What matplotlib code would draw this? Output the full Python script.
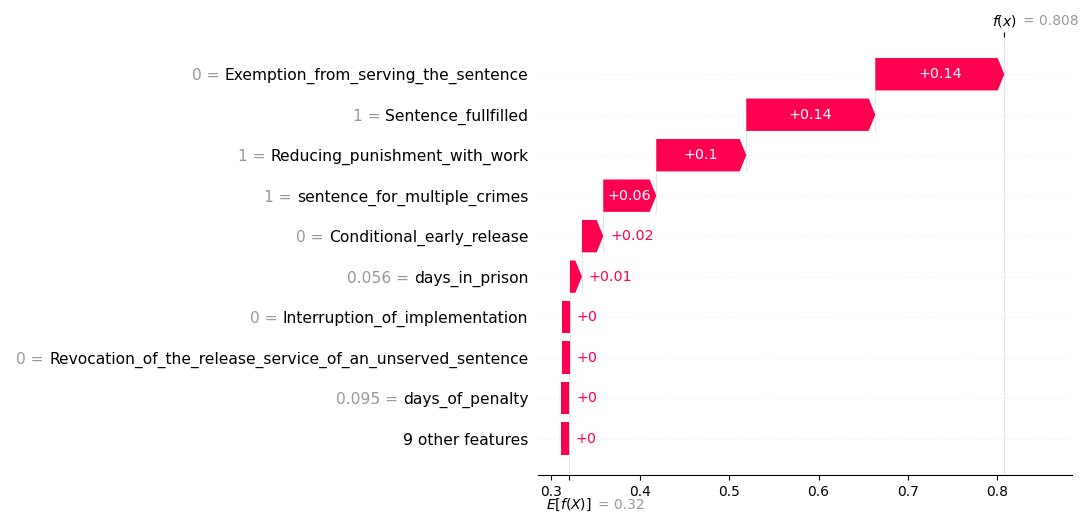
import matplotlib
matplotlib.use("Agg")
import matplotlib.pyplot as plt
import numpy as np

# features listed top to bottom, as in the waterfall
features = [
    "Exemption_from_serving_the_sentence",
    "Sentence_fullfilled",
    "Reducing_punishment_with_work",
    "sentence_for_multiple_crimes",
    "Conditional_early_release",
    "days_in_prison",
    "Interruption_of_implementation",
    "Revocation_of_the_release_service_of_an_unserved_sentence",
    "days_of_penalty",
    "9 other features",
]
feature_values = ["0", "1", "1", "1", "0", "0.056", "0", "0", "0.095", ""]
shap_values = [0.1445, 0.1445, 0.1008, 0.0594, 0.0239, 0.0134,
               0.0004, 0.0004, 0.0004, 0.0004]
base_value = 0.32
x_ticks = [0.3, 0.4, 0.5, 0.6, 0.7, 0.8]

RED = "#ff0051"
GRAY = "#999999"
BAR_H = 0.8
HEAD = 0.0074   # arrow head length, data units
STUB = 0.009    # drawn width of bars that round to +0


def fmt(v, f="%+0.02f"):
    s = f % v
    return s.rstrip("0").rstrip(".")


n = len(features)
ys = np.arange(n)[::-1]
vals = np.array(shap_values)
# bars stack from the bottom row upward, starting at E[f(X)]
ends = base_value + np.cumsum(vals[::-1])[::-1]
starts = ends - vals
fx_value = base_value + vals.sum()

fig = plt.figure(figsize=(10.9, 5.26), dpi=100)
ax = fig.add_axes([538 / 1090, 1 - 475 / 526, (1072 - 538) / 1090, (475 - 37) / 526])
ax.set_xlim(0.2858, 0.8839)
ax.set_ylim(-0.9, n - 0.08)

# row guide lines
for y in ys:
    ax.axhline(y, color="#cccccc", lw=0.5, dashes=(1, 5), zorder=-1)

# connectors between consecutive bars
for i in range(n - 1):
    ax.plot([starts[i], starts[i]], [ys[i] - 1 - 0.4, ys[i] + 0.4],
            color="#bbbbbb", lw=0.5, dashes=(1, 1), zorder=0)

ax.axvline(fx_value, color="#bbbbbb", lw=0.5, dashes=(1, 1), zorder=0)
ax.axvline(base_value, 0, 1 / n, color="#bbbbbb", lw=0.5, dashes=(1, 1), zorder=0)

renderer = fig.canvas.get_renderer()
for y, s, v in zip(ys, starts, vals):
    lbl = fmt(v)
    if lbl == "+0":
        ax.barh(y, STUB, left=s + v - STUB, height=BAR_H, color=RED, lw=0, zorder=2)
        bar_px = 0
    else:
        ax.arrow(s, y, v, 0, width=BAR_H, head_width=BAR_H,
                 head_length=min(v, HEAD), length_includes_head=True,
                 color=RED, lw=0, zorder=2)
        bar_px = ax.transData.transform((s + v, 0))[0] - ax.transData.transform((s, 0))[0]
    t = ax.text(s + v / 2, y, lbl, ha="center", va="center", color="white",
                fontsize=10.3, zorder=3)
    if t.get_window_extent(renderer).width > bar_px - 4:
        t.remove()
        ax.annotate(lbl, xy=(s + v, y), xytext=(5, 0), textcoords="offset points",
                    ha="left", va="center", color=RED, fontsize=10.3, zorder=3)

# y labels: black feature name, gray "value =" in front of it
ax.set_yticks([])
for y, name, fv in zip(ys, features, feature_values):
    t = ax.annotate(name, xy=(0, y), xycoords=("axes fraction", "data"),
                    xytext=(-7, 0), textcoords="offset points",
                    ha="right", va="center_baseline", fontsize=11.2)
    if fv:
        ax.annotate(f"{fv} =", xy=(0, y), xycoords=(t, "data"),
                    xytext=(-3.6, 0), textcoords="offset points",
                    ha="right", va="center_baseline", fontsize=11.2, color=GRAY)

ax.set_xticks(x_ticks)
ax.set_xticklabels([f"{x:.1f}" for x in x_ticks], fontsize=10)
ax.set_xticks([base_value], minor=True)
ax.tick_params(axis="x", which="minor", length=3.5, width=0.8)
for side in ["left", "right", "top"]:
    ax.spines[side].set_visible(False)

# f(x) tick on top
ax_top = ax.twiny()
ax_top.set_xlim(ax.get_xlim())
ax_top.set_xticks([fx_value])
ax_top.set_xticklabels([""])
for side in ax_top.spines:
    ax_top.spines[side].set_visible(False)

e_lbl = ax.annotate("$E[f(X)]$", xy=(base_value, 0), xycoords=("data", "axes fraction"),
                    xytext=(0, -24.5), textcoords="offset points",
                    ha="center", va="baseline", fontsize=10)
ax.annotate("= " + fmt(base_value, "%0.03f"), xy=(1, 0), xycoords=(e_lbl, "axes fraction"),
            xytext=(4.5, -24.5), textcoords="offset points",
            ha="left", va="baseline", fontsize=10, color=GRAY)

f_lbl = ax.annotate("$f(x)$", xy=(fx_value, 1), xycoords=("data", "axes fraction"),
                    xytext=(0, 8.6), textcoords="offset points",
                    ha="center", va="baseline", fontsize=10)
ax.annotate("= " + fmt(fx_value, "%0.03f"), xy=(1, 1), xycoords=(f_lbl, "axes fraction"),
            xytext=(4.5, 8.6), textcoords="offset points",
            ha="left", va="baseline", fontsize=10, color=GRAY)

fig.savefig("out.png", dpi=100)
